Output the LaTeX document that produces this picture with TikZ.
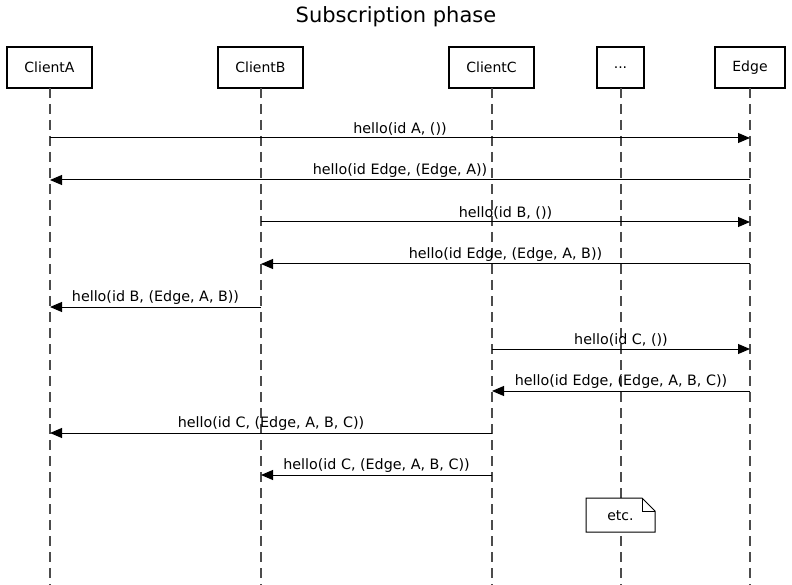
\documentclass[tikz,border=0pt]{standalone}
\usepackage{fontspec}
\setmainfont{DejaVu Sans}
\usetikzlibrary{arrows.meta}
\begin{document}
\begin{tikzpicture}[x=1pt,y=-1pt,
  actor/.style={draw=black,line width=2pt,minimum height=41pt,inner sep=0pt,font=\fontsize{14}{16}\selectfont},
  life/.style={draw=black!70,line width=1.2pt,dash pattern=on 10pt off 6pt},
  msg/.style={draw=black,line width=1pt,-{Triangle[length=12pt,width=10pt]}},
  lbl/.style={font=\fontsize{14.3}{16}\selectfont,above=0.5pt,inner sep=2pt}]
\useasboundingbox (0,0) rectangle (792,585);
\node[font=\fontsize{21}{24}\selectfont] (title) at (396,17) {Subscription phase};
\node[actor,minimum width=85pt] (A) at (49.5,67.5) {ClientA};
\node[actor,minimum width=85pt] (B) at (260.5,67.5) {ClientB};
\node[actor,minimum width=85pt] (C) at (491.5,67.5) {ClientC};
\node[actor,minimum width=47pt] (D) at (620.5,67.5) {...};
\node[actor,minimum width=70pt] (E) at (750,67.5) {Edge};
\foreach \n/\x in {A/50,B/261,C/492,D/621,E/750}{
  \coordinate (\n0) at (\x,88);
  \coordinate (\n1) at (\x,585);
  \draw[life] (\n0) -- (\n1);
  \foreach \i/\y in {1/138,2/180,3/222,4/264,5/307,6/349,7/391,8/433,9/475}{
    \coordinate (\n m\i) at (\x,\y);
  }
}
\draw[msg] (Am1) -- node[lbl]{hello(id A, ())} (Em1);
\draw[msg] (Em2) -- node[lbl]{hello(id Edge, (Edge, A))} (Am2);
\draw[msg] (Bm3) -- node[lbl]{hello(id B, ())} (Em3);
\draw[msg] (Em4) -- node[lbl]{hello(id Edge, (Edge, A, B))} (Bm4);
\draw[msg] (Bm5) -- node[lbl]{hello(id B, (Edge, A, B))} (Am5);
\draw[msg] (Cm6) -- node[lbl]{hello(id C, ())} (Em6);
\draw[msg] (Em7) -- node[lbl]{hello(id Edge, (Edge, A, B, C))} (Cm7);
\draw[msg] (Cm8) -- node[lbl]{hello(id C, (Edge, A, B, C))} (Am8);
\draw[msg] (Cm9) -- node[lbl]{hello(id C, (Edge, A, B, C))} (Bm9);
\fill[white] (586,498) rectangle (655,532);
\draw[line width=1pt] (586,498) -- (642,498) -- (655,511) -- (655,532) -- (586,532) -- cycle;
\draw[line width=1pt] (642,498) -- (642,511) -- (655,511);
\node[font=\fontsize{14}{16}\selectfont] (note) at (620.5,515.5) {etc.};
\end{tikzpicture}
\end{document}
